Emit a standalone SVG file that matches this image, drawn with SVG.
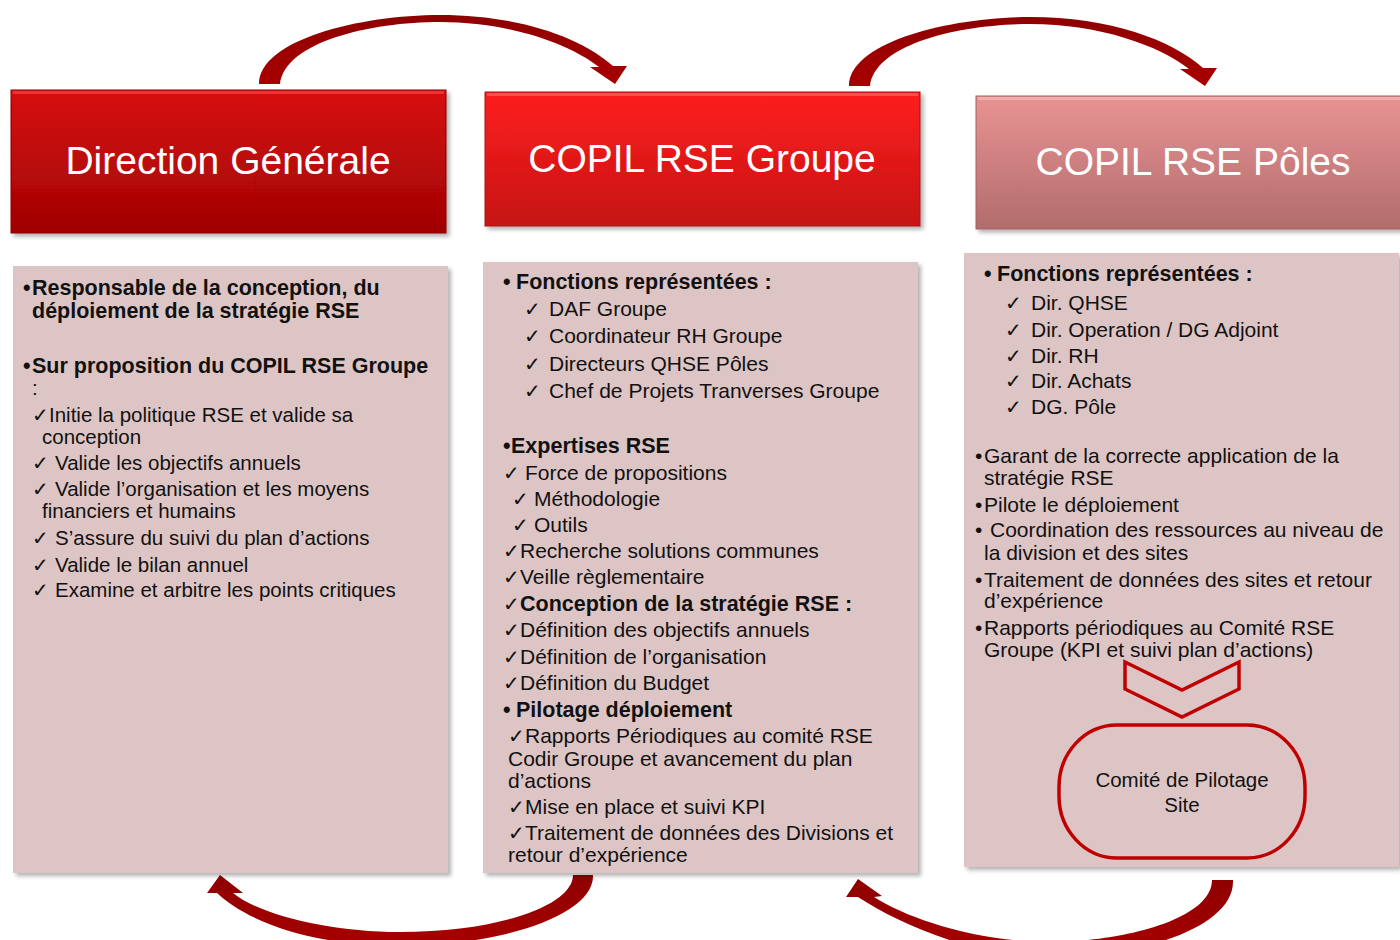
<svg xmlns="http://www.w3.org/2000/svg" width="1400" height="940" viewBox="0 0 1400 940">
<defs>
<style>
.t{font-family:"Liberation Sans",Arial,sans-serif;fill:#111;}
.r{font-size:20.5px;}
.m{font-size:21px;}
.b{font-weight:bold;font-size:21.5px;}
.ck{font-family:"DejaVu Sans",sans-serif;font-size:20px;font-weight:normal;}
.hd{font-family:"Liberation Sans",Arial,sans-serif;font-size:39px;fill:#fff;text-anchor:middle;}
.panel{fill:#dec5c5;filter:url(#sh);}
.arrow{fill:url(#ag);}
.red{fill:none;stroke:#c00000;stroke-width:3.5;}
</style>
<linearGradient id="g1" x1="0" y1="0" x2="0" y2="1"><stop offset="0" stop-color="#d80c0c"/><stop offset="1" stop-color="#a00404"/></linearGradient>
<linearGradient id="g2" x1="0" y1="0" x2="0" y2="1"><stop offset="0" stop-color="#ff1e1e"/><stop offset="1" stop-color="#c51414"/></linearGradient>
<linearGradient id="g3" x1="0" y1="0" x2="0" y2="1"><stop offset="0" stop-color="#e99393"/><stop offset="1" stop-color="#b26c6c"/></linearGradient>
<linearGradient id="ag" x1="0" y1="0" x2="0" y2="1"><stop offset="0" stop-color="#8e0000"/><stop offset="1" stop-color="#a80000"/></linearGradient>
<filter id="sh" x="-5%" y="-5%" width="110%" height="110%"><feDropShadow dx="3" dy="3" stdDeviation="2" flood-color="#000" flood-opacity="0.3"/></filter>
</defs>
<rect width="1400" height="940" fill="#fff"/>

<g id="connectors">
<path class="arrow" d="M259 84 C259 40 360 15 440 15 C520 15 582 38 613 66 L627 66 L615 84 L590 67 L599 67 C570 44 510 22 440 22 C370 22 285 42 280 84 Z"/>
<path class="arrow" d="M849 86 C849 42 950 17 1030 17 C1110 17 1172 40 1203 68 L1217 68 L1205 86 L1180 69 L1189 69 C1160 46 1100 24 1030 24 C960 24 875 44 870 86 Z"/>
<path class="arrow" d="M593 875 C595 915 500 946 400 946 C310 946 245 920 217 893 L207 893 L220 875 L243 893 L233 893 C260 915 330 932 400 932 C500 932 573 905 573 875 Z"/>
<path class="arrow" d="M1233 880 C1235 930 1130 958 1050 958 C980 958 900 925 858 897 L846 897 L858 879 L882 896 L874 897 C910 920 980 942 1050 942 C1120 942 1212 920 1212 880 Z"/>
</g>

<g id="node-dg">
<rect x="11" y="90" width="435" height="143" fill="url(#g1)" stroke="#8a0303" stroke-width="1" filter="url(#sh)"/>
<rect x="13" y="91" width="431" height="3" fill="#ff4a4a" opacity="0.6"/>
<text class="hd" x="228" y="174">Direction Générale</text>
</g>

<g id="node-copil-groupe">
<rect x="485" y="92" width="435" height="134" fill="url(#g2)" stroke="#a51010" stroke-width="1" filter="url(#sh)"/>
<rect x="487" y="93" width="431" height="3" fill="#ff7070" opacity="0.6"/>
<text class="hd" x="702" y="172">COPIL RSE Groupe</text>
</g>

<g id="node-copil-poles">
<rect x="976" y="96" width="430" height="133" fill="url(#g3)" stroke="#a06060" stroke-width="1" filter="url(#sh)"/>
<rect x="978" y="97" width="428" height="3" fill="#f6b8b8" opacity="0.7"/>
<text class="hd" x="1193" y="175">COPIL RSE Pôles</text>
</g>

<g id="panel-dg">
<rect class="panel" x="13" y="266" width="435" height="607"/>
<text class="t b"><tspan x="23" y="295">•</tspan><tspan x="32">Responsable de la conception, du</tspan></text>
<text class="t b" x="32" y="318">déploiement de la stratégie RSE</text>
<text class="t b"><tspan x="23" y="373">•</tspan><tspan x="32">Sur proposition du COPIL RSE Groupe</tspan></text>
<text class="t r" x="32" y="395">:</text>
<text class="t r"><tspan class="ck" x="32" y="422">✓</tspan><tspan x="49">Initie la politique RSE et valide sa</tspan></text>
<text class="t r" x="42" y="444">conception</text>
<text class="t r"><tspan class="ck" x="32" y="470">✓</tspan><tspan x="55">Valide les objectifs annuels</tspan></text>
<text class="t r"><tspan class="ck" x="32" y="496">✓</tspan><tspan x="55">Valide l’organisation et les moyens</tspan></text>
<text class="t r" x="42" y="518">financiers et humains</text>
<text class="t r"><tspan class="ck" x="32" y="545">✓</tspan><tspan x="55">S’assure du suivi du plan d’actions</tspan></text>
<text class="t r"><tspan class="ck" x="32" y="572">✓</tspan><tspan x="55">Valide le bilan annuel</tspan></text>
<text class="t r"><tspan class="ck" x="32" y="597">✓</tspan><tspan x="55">Examine et arbitre les points critiques</tspan></text>
</g>

<g id="panel-groupe">
<rect class="panel" x="483" y="262" width="435" height="611"/>
<text class="t b"><tspan x="503" y="289">•</tspan><tspan x="516">Fonctions représentées :</tspan></text>
<text class="t m"><tspan class="ck" x="524" y="316">✓</tspan><tspan x="549">DAF Groupe</tspan></text>
<text class="t m"><tspan class="ck" x="524" y="343">✓</tspan><tspan x="549">Coordinateur RH Groupe</tspan></text>
<text class="t m"><tspan class="ck" x="524" y="371">✓</tspan><tspan x="549">Directeurs QHSE Pôles</tspan></text>
<text class="t m"><tspan class="ck" x="524" y="398">✓</tspan><tspan x="549">Chef de Projets Tranverses Groupe</tspan></text>
<text class="t b"><tspan x="503" y="453">•</tspan><tspan x="511">Expertises RSE</tspan></text>
<text class="t m"><tspan class="ck" x="503" y="480">✓</tspan><tspan x="525">Force de propositions</tspan></text>
<text class="t m"><tspan class="ck" x="512" y="506">✓</tspan><tspan x="534">Méthodologie</tspan></text>
<text class="t m"><tspan class="ck" x="512" y="532">✓</tspan><tspan x="534">Outils</tspan></text>
<text class="t m"><tspan class="ck" x="503" y="558">✓</tspan><tspan x="520">Recherche solutions communes</tspan></text>
<text class="t m"><tspan class="ck" x="503" y="584">✓</tspan><tspan x="520">Veille règlementaire</tspan></text>
<text class="t b"><tspan class="ck" x="503" y="611">✓</tspan><tspan x="520">Conception de la stratégie RSE :</tspan></text>
<text class="t m"><tspan class="ck" x="503" y="637">✓</tspan><tspan x="520">Définition des objectifs annuels</tspan></text>
<text class="t m"><tspan class="ck" x="503" y="664">✓</tspan><tspan x="520">Définition de l’organisation</tspan></text>
<text class="t m"><tspan class="ck" x="503" y="690">✓</tspan><tspan x="520">Définition du Budget</tspan></text>
<text class="t b"><tspan x="503" y="717">•</tspan><tspan x="516">Pilotage déploiement</tspan></text>
<text class="t m"><tspan class="ck" x="508" y="743">✓</tspan><tspan x="525">Rapports Périodiques au comité RSE</tspan></text>
<text class="t m" x="508" y="766">Codir Groupe et avancement du plan</text>
<text class="t m" x="508" y="788">d’actions</text>
<text class="t m"><tspan class="ck" x="508" y="814">✓</tspan><tspan x="525">Mise en place et suivi KPI</tspan></text>
<text class="t m"><tspan class="ck" x="508" y="840">✓</tspan><tspan x="525">Traitement de données des Divisions et</tspan></text>
<text class="t m" x="508" y="862">retour d’expérience</text>
</g>

<g id="panel-poles">
<rect class="panel" x="964" y="253" width="435" height="614"/>
<text class="t b"><tspan x="984" y="281">•</tspan><tspan x="997">Fonctions représentées :</tspan></text>
<text class="t m"><tspan class="ck" x="1005" y="310">✓</tspan><tspan x="1031">Dir. QHSE</tspan></text>
<text class="t m"><tspan class="ck" x="1005" y="337">✓</tspan><tspan x="1031">Dir. Operation / DG Adjoint</tspan></text>
<text class="t m"><tspan class="ck" x="1005" y="363">✓</tspan><tspan x="1031">Dir. RH</tspan></text>
<text class="t m"><tspan class="ck" x="1005" y="388">✓</tspan><tspan x="1031">Dir. Achats</tspan></text>
<text class="t m"><tspan class="ck" x="1005" y="414">✓</tspan><tspan x="1031">DG. Pôle</tspan></text>
<text class="t m"><tspan x="975" y="463">•</tspan><tspan x="984">Garant de la correcte application de la</tspan></text>
<text class="t m" x="984" y="485">stratégie RSE</text>
<text class="t m"><tspan x="975" y="512">•</tspan><tspan x="984">Pilote le déploiement</tspan></text>
<text class="t m"><tspan x="975" y="537">•</tspan><tspan x="990">Coordination des ressources au niveau de</tspan></text>
<text class="t m" x="984" y="560">la division et des sites</text>
<text class="t m"><tspan x="975" y="587">•</tspan><tspan x="984">Traitement de données des sites et retour</tspan></text>
<text class="t m" x="984" y="608">d’expérience</text>
<text class="t m"><tspan x="975" y="635">•</tspan><tspan x="984">Rapports périodiques au Comité RSE</tspan></text>
<text class="t m" x="984" y="657">Groupe (KPI et suivi plan d’actions)</text>
<path class="red" d="M1125 662 L1182 690 L1239 662 L1239 689 L1182 717 L1125 689 Z"/>
</g>

<g id="node-comite-site">
<rect class="red" x="1059" y="725" width="246" height="133" rx="58" ry="62"/>
<text class="t r" x="1182" y="787" text-anchor="middle">Comité de Pilotage</text>
<text class="t r" x="1182" y="812" text-anchor="middle">Site</text>
</g>
</svg>
